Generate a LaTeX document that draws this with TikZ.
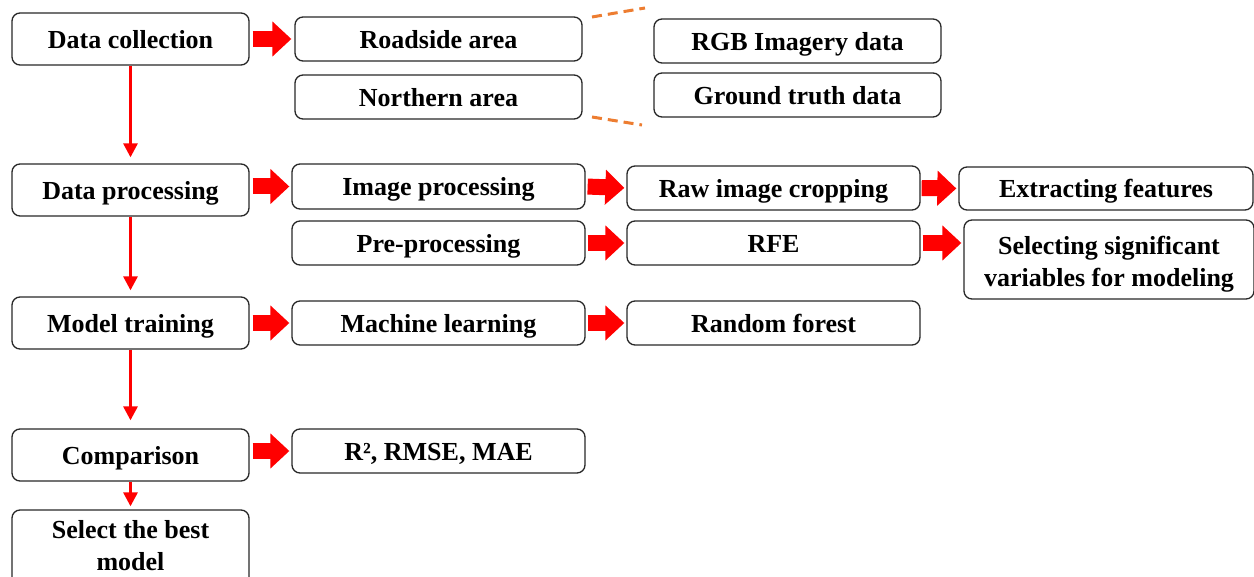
\documentclass[tikz,border=0pt]{standalone}
\usepackage{fontspec}
\setmainfont{Liberation Serif}
\usetikzlibrary{arrows.meta}
\definecolor{dashorange}{RGB}{237,125,49}
\definecolor{boxline}{RGB}{40,40,40}
\tikzset{
  box/.style={draw=boxline, line width=1.3pt, rounded corners=8pt, fill=white,
    font=\fontsize{26}{32}\selectfont\bfseries, align=center, inner sep=0pt,
    text height=24pt, text depth=5pt},
  bigarrow/.style={draw=red, line width=16pt, -{Triangle[length=19pt,width=34pt]}, red},
  vline/.style={draw=red, line width=3pt, -{Triangle[length=14pt,width=14pt]}},
  zoomline/.style={draw=dashorange, line width=3pt, dash pattern=on 10pt off 6pt}
}
\begin{document}
\begin{tikzpicture}[x=1pt,y=-1pt]
\useasboundingbox (0,0) rectangle (1254,577);
% left column
\node[box, minimum width=237pt, minimum height=52pt] (dc) at (130.5,39) {Data collection};
\node[box, minimum width=237pt, minimum height=52pt] (dp) at (130.5,190) {Data processing};
\node[box, minimum width=237pt, minimum height=52pt] (mt) at (130.5,323) {Model training};
\node[box, minimum width=237pt, minimum height=52pt] (cmp) at (130.5,455) {Comparison};
\node[box, minimum width=237pt, minimum height=75pt, text height=56pt, text depth=11pt] (best) at (130.5,547.5) {Select the best\\model};
% data collection row
\node[box, minimum width=287pt, minimum height=44pt] (road) at (438.5,39) {Roadside area};
\node[box, minimum width=287pt, minimum height=44pt] (north) at (438.5,97) {Northern area};
\node[box, minimum width=287pt, minimum height=44pt] (rgb) at (797.5,41) {RGB Imagery data};
\node[box, minimum width=287pt, minimum height=44pt] (gt) at (797.5,95) {Ground truth data};
% data processing rows
\node[box, minimum width=293pt, minimum height=45pt] (ip) at (438.5,186.5) {Image processing};
\node[box, minimum width=293pt, minimum height=44pt] (pp) at (438.5,243) {Pre-processing};
\node[box, minimum width=293pt, minimum height=44pt] (raw) at (773.5,188) {Raw image cropping};
\node[box, minimum width=293pt, minimum height=44pt] (rfe) at (773.5,243) {RFE};
\node[box, minimum width=294pt, minimum height=43pt] (ef) at (1106,188.5) {Extracting features};
\node[box, minimum width=290pt, minimum height=79pt, text height=56pt, text depth=1pt] (sel) at (1109,259.5) {Selecting significant\\variables for modeling};
% model training row
\node[box, minimum width=293pt, minimum height=44pt] (ml) at (438.5,323) {Machine learning};
\node[box, minimum width=293pt, minimum height=44pt] (rf) at (773.5,323) {Random forest};
% comparison row
\node[box, minimum width=293pt, minimum height=44pt] (r2) at (438.5,451) {R², RMSE, MAE};
% vertical arrows
\draw[vline, shorten >=6pt] (dc.south) -- (dp.north);
\draw[vline, shorten >=6pt] (dp.south) -- (mt.north);
\draw[vline, shorten >=8pt] (mt.south) -- (cmp.north);
\draw[vline, shorten >=3pt] (cmp.south) -- (best.north);
% block arrows
\draw[bigarrow, shorten <=3pt, shorten >=3pt] (dc.east) -- (road.west);
\draw[bigarrow, shorten <=3pt, shorten >=2pt] (dp.east |- ip.west) -- (ip.west);
\draw[bigarrow, shorten <=2pt, shorten >=2pt] (ip.east) -- (raw.west);
\draw[bigarrow, shorten <=1pt, shorten >=2pt] (raw.east) -- (ef.west);
\draw[bigarrow, shorten <=2pt, shorten >=2pt] (pp.east) -- (rfe.west);
\draw[bigarrow, shorten <=2pt, shorten >=2pt] (rfe.east) -- (rfe.east -| sel.west);
\draw[bigarrow, shorten <=3pt, shorten >=2pt] (mt.east |- ml.west) -- (ml.west);
\draw[bigarrow, shorten <=2pt, shorten >=2pt] (ml.east) -- (rf.west);
\draw[bigarrow, shorten <=3pt, shorten >=2pt] (cmp.east |- r2.west) -- (r2.west);
% dashed zoom lines
\coordinate (za) at (592,17);
\coordinate (zb) at (645,8);
\coordinate (zc) at (592,117);
\coordinate (zd) at (642,125);
\draw[zoomline] (za) -- (zb);
\draw[zoomline] (zc) -- (zd);
\end{tikzpicture}
\end{document}
